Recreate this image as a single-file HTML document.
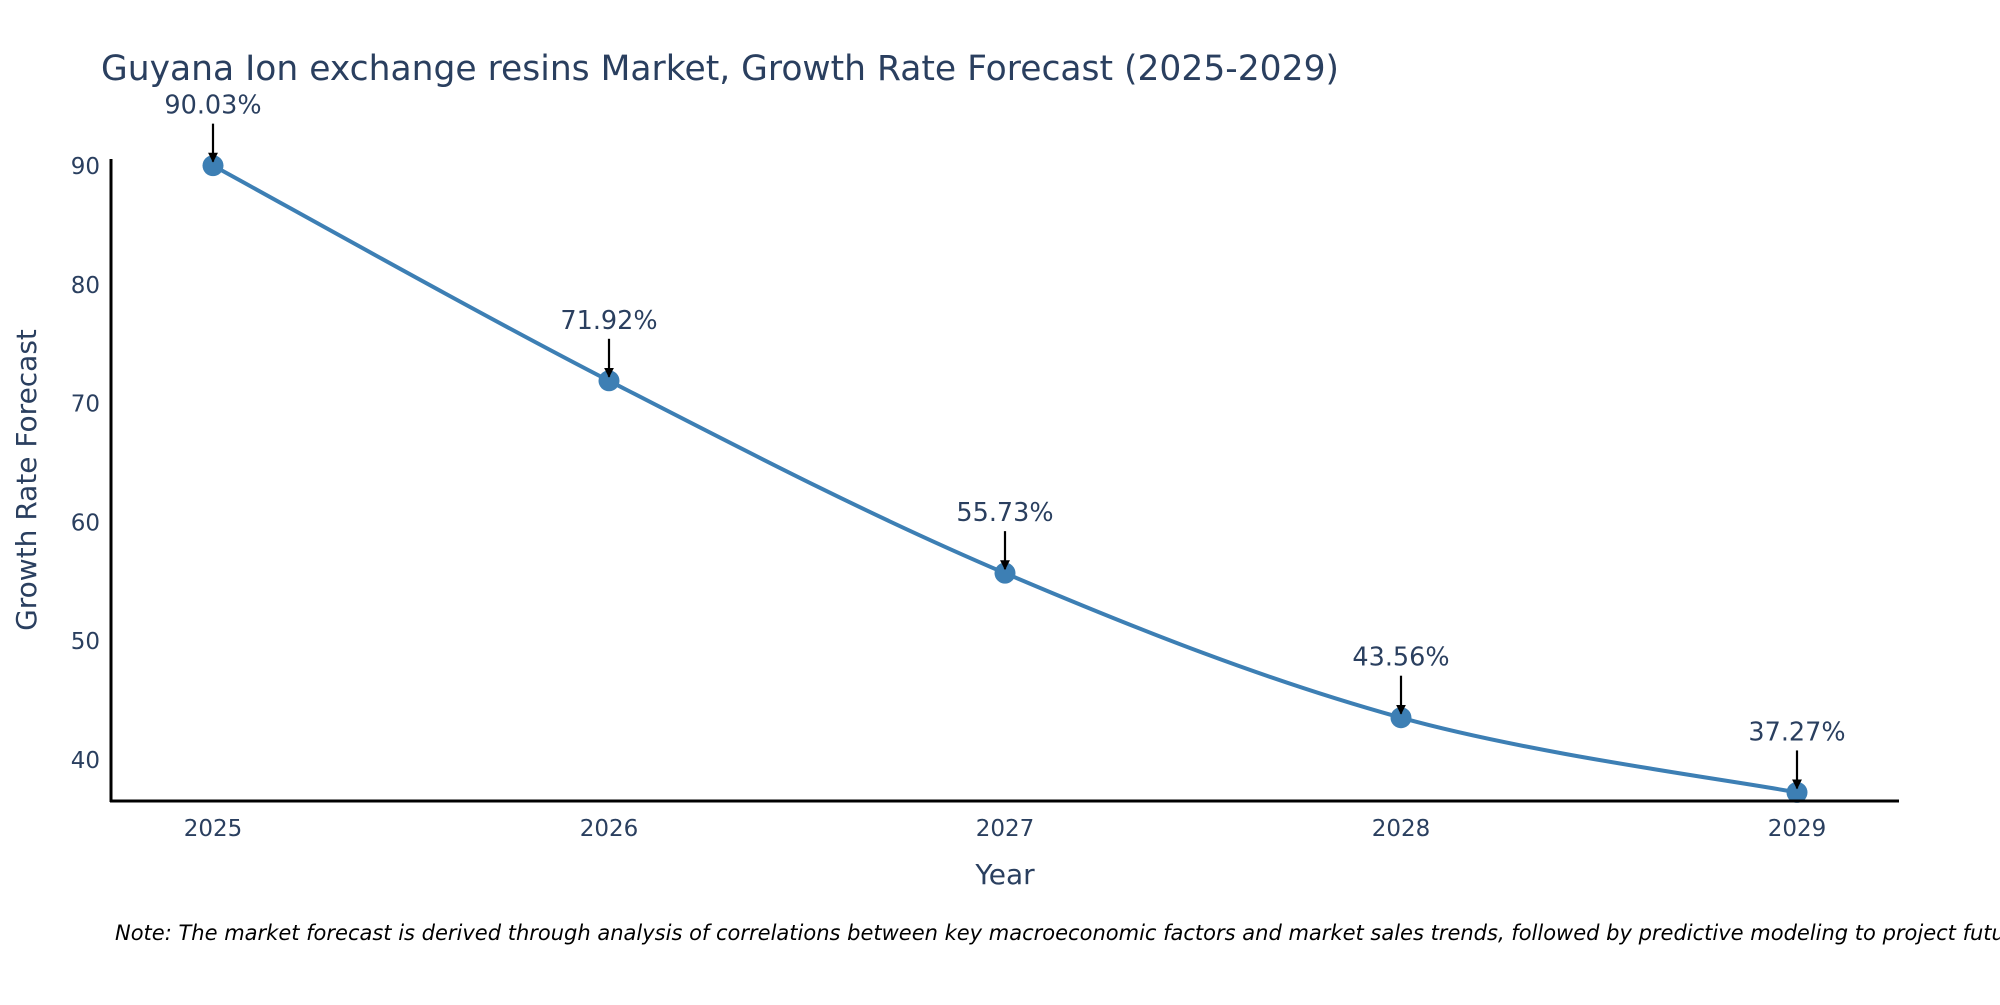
<!DOCTYPE html>
<html><head><meta charset="utf-8"><style>
body{margin:0;background:#fff}
svg text{font-family:"DejaVu Sans","Liberation Sans",sans-serif;fill:#2a3f5f}
</style></head><body>
<svg id="chart" width="2000" height="1000" viewBox="0 0 2000 1000" xmlns="http://www.w3.org/2000/svg">
<text x="101" y="80" font-size="34.5">Guyana Ion exchange resins Market, Growth Rate Forecast (2025-2029)</text>
<g id="plot"></g>
<line x1="111" y1="159" x2="111" y2="802" stroke="#000" stroke-width="3"/>
<line x1="110" y1="801" x2="1899" y2="801" stroke="#000" stroke-width="3"/>
<text x="1005" y="884" font-size="28" text-anchor="middle">Year</text>
<text transform="translate(36,480) rotate(-90)" font-size="28" text-anchor="middle">Growth Rate Forecast</text>
<text x="115" y="940" font-size="21" font-style="italic" style="fill:#000">Note: The market forecast is derived through analysis of correlations between key macroeconomic factors and market sales trends, followed by predictive modeling to project future sales.</text>
<defs><marker id="ah" viewBox="0 0 10 10" refX="9" refY="5" markerWidth="4.5" markerHeight="4.5" markerUnits="strokeWidth" orient="auto"><path d="M0,0 L10,5 L0,10 z" fill="#000"/></marker></defs>
</svg>
<script>
const years=[2025,2026,2027,2028,2029];
const values=[90.03,71.92,55.73,43.56,37.27];
const yTicks=[40,50,60,70,80,90];
const labels=["90.03%","71.92%","55.73%","43.56%","37.27%"];
const NS="http://www.w3.org/2000/svg";
const g=document.getElementById('plot');
const xs=v=>213+(v-2025)*(1797-213)/4;
const ys=v=>760-(v-40)*(760-166)/50;
function mk(t,a){const e=document.createElementNS(NS,t);for(const k in a)e.setAttribute(k,a[k]);g.appendChild(e);return e;}
yTicks.forEach(t=>{const e=mk('text',{x:100,y:ys(t)+8,'font-size':23,'text-anchor':'end'});e.textContent=t;

});
years.forEach(t=>{const e=mk('text',{x:xs(t),y:836,'font-size':23,'text-anchor':'middle'});e.textContent=t;

});
const P=years.map((y,i)=>[xs(y),ys(values[i])]);
let d=`M${P[0][0]},${P[0][1]}`;
for(let i=0;i<P.length-1;i++){const p0=P[Math.max(i-1,0)],p1=P[i],p2=P[i+1],p3=P[Math.min(i+2,P.length-1)];const s=0.17;
d+=` C${p1[0]+(p2[0]-p0[0])*s},${p1[1]+(p2[1]-p0[1])*s} ${p2[0]-(p3[0]-p1[0])*s},${p2[1]-(p3[1]-p1[1])*s} ${p2[0]},${p2[1]}`;}
const line=mk('path',{d:d,fill:'none',stroke:'#3d7fb4','stroke-width':4});


P.forEach((p,i)=>{const c=mk('circle',{cx:p[0],cy:p[1],r:10.5,fill:'#3d7fb4'});


const a=mk('line',{x1:p[0],y1:p[1]-42,x2:p[0],y2:p[1]-4,stroke:'#000','stroke-width':2.2,'marker-end':'url(#ah)'});


const t=mk('text',{x:p[0],y:p[1]-52,'font-size':25.5,'text-anchor':'middle'});t.textContent=labels[i];

});
</script>
</body></html>
